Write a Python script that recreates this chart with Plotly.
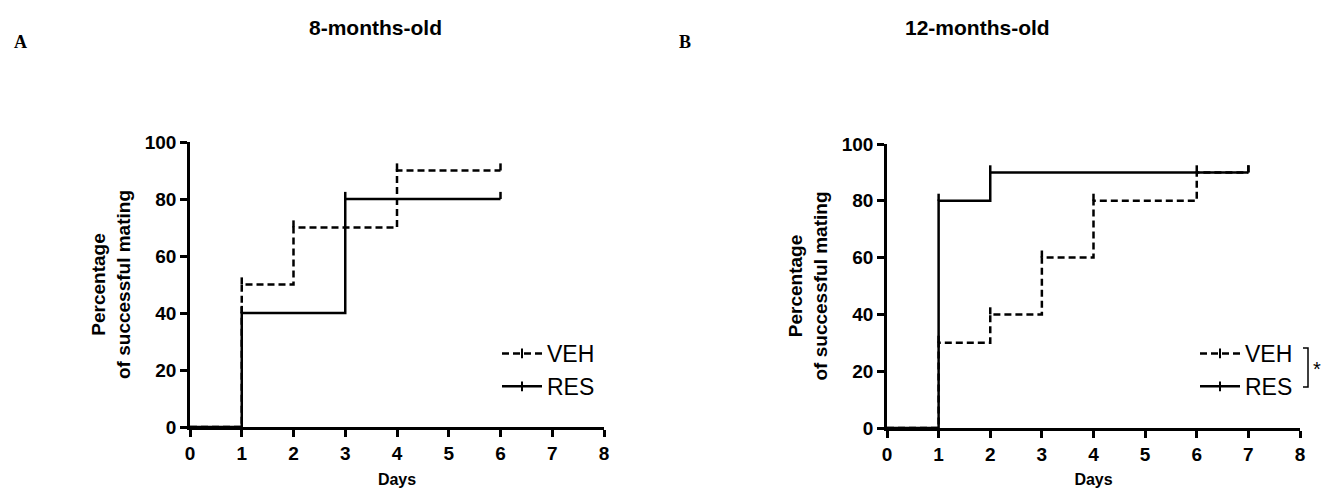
import plotly.graph_objects as go

# ---------------- data ----------------
SERIES = ["VEH", "RES"]
PANEL_LETTERS = ["A", "B"]
PANEL_TITLES = ["8-months-old", "12-months-old"]

A_VEH_DAYS = [0, 1, 2, 4, 6]
A_VEH_PCT = [0, 50, 70, 90, 90]
A_RES_DAYS = [0, 1, 3, 6]
A_RES_PCT = [0, 40, 80, 80]

B_VEH_DAYS = [0, 1, 2, 3, 4, 6, 7]
B_VEH_PCT = [0, 30, 40, 60, 80, 90, 90]
B_RES_DAYS = [0, 1, 2, 7]
B_RES_PCT = [0, 80, 90, 90]

X_TICKS = [0, 1, 2, 3, 4, 5, 6, 7, 8]
Y_TICKS = [0, 20, 40, 60, 80, 100]
X_LABEL = "Days"
Y_LABEL = "Percentage<br>of successful mating"
SIG_MARK = "*"

# ---------------- style ----------------
W, H = 1322, 488
SANS = "Liberation Sans, Arial, sans-serif"
SERIF = "Liberation Serif, Times New Roman, serif"
DASH = "7px,4px"
LW = 2.5
CENSOR = 2.5  # height of the censor tick, in % units


def px(x):
    return x / W


def py(y):
    return 1 - y / H


fig = go.Figure()

panels = [
    (A_VEH_DAYS, A_VEH_PCT, A_RES_DAYS, A_RES_PCT, "x", "y"),
    (B_VEH_DAYS, B_VEH_PCT, B_RES_DAYS, B_RES_PCT, "x2", "y2"),
]

for vx, vy, rx, ry, xa, ya in panels:
    for name, xs, ys, dash in [(SERIES[0], vx, vy, DASH), (SERIES[1], rx, ry, "solid")]:
        fig.add_trace(go.Scatter(
            x=xs, y=ys, mode="lines", name=name, showlegend=False,
            line=dict(color="black", width=LW, shape="hv", dash=dash),
            error_y=dict(type="data", symmetric=False,
                         array=[0] + [CENSOR] * (len(ys) - 1),
                         arrayminus=[0] * len(ys),
                         width=0, thickness=LW, color="black"),
            xaxis=xa, yaxis=ya, hoverinfo="skip",
        ))

# legend-only entries
for leg in ["legend", "legend2"]:
    for name, dash in [(SERIES[0], DASH), (SERIES[1], "solid")]:
        fig.add_trace(go.Scatter(
            x=[None], y=[None], mode="lines+markers", name=name, legend=leg,
            line=dict(color="black", width=LW, dash=dash),
            marker=dict(symbol="line-ns-open", size=7, color="black",
                        line=dict(color="black", width=2)),
            xaxis="x" if leg == "legend" else "x2",
            yaxis="y" if leg == "legend" else "y2",
        ))

axis_common = dict(
    showline=True, linewidth=LW, linecolor="black",
    ticks="outside", ticklen=7, tickwidth=LW, tickcolor="black",
    showgrid=False, zeroline=False, automargin=False,
    tickfont=dict(family=SANS, size=19, color="black", weight="bold"),
)

xdoms = [[px(190), px(604)], [px(887), px(1300)]]
ydoms = [[py(427), py(142)], [py(428), py(144)]]

layout = dict(
    width=W, height=H,
    margin=dict(l=0, r=0, t=0, b=0, pad=0, autoexpand=False),
    paper_bgcolor="white", plot_bgcolor="white",
    font=dict(family=SANS, color="black"),
)
for i, (xd, yd) in enumerate(zip(xdoms, ydoms)):
    sx = "" if i == 0 else str(i + 1)
    layout["xaxis" + sx] = dict(
        axis_common, domain=xd, range=[0, 8], tickvals=X_TICKS,
        anchor="y" + sx, ticklabelstandoff=0,
        title=dict(text=X_LABEL, standoff=12,
                   font=dict(family=SANS, size=16, color="black", weight="bold")),
    )
    layout["yaxis" + sx] = dict(
        axis_common, domain=yd, range=[0, 100], tickvals=Y_TICKS,
        anchor="x" + sx,
        title=dict(text=Y_LABEL, standoff=10,
                   font=dict(family=SANS, size=19, color="black", weight="bold")),
    )

legend_common = dict(
    xanchor="left", yanchor="top", bgcolor="rgba(0,0,0,0)",
    font=dict(family=SANS, size=23, color="black"),
    itemwidth=40, tracegroupgap=0, borderwidth=0,
)
layout["legend"] = dict(legend_common, x=px(497), y=py(332))
layout["legend2"] = dict(legend_common, x=px(1195), y=py(332))

fig.update_layout(**layout)

# panel titles and letters
title_pos = [(375, 28), (977, 28)]
letter_pos = [(20, 42), (685, 42)]
for t, (tx, ty) in zip(PANEL_TITLES, title_pos):
    fig.add_annotation(text=t, x=px(tx), y=py(ty), xref="paper", yref="paper",
                       showarrow=False, xanchor="center", yanchor="middle",
                       font=dict(family=SANS, size=21, color="black", weight="bold"))
for t, (tx, ty) in zip(PANEL_LETTERS, letter_pos):
    fig.add_annotation(text=t, x=px(tx), y=py(ty), xref="paper", yref="paper",
                       showarrow=False, xanchor="center", yanchor="middle",
                       font=dict(family=SERIF, size=18, color="black", weight="bold"))

# significance bracket
x1, x2, y1, y2 = px(1303), px(1308), py(348), py(387)
fig.add_shape(type="path", xref="paper", yref="paper",
              path=f"M {x1},{y1} L {x2},{y1} L {x2},{y2} L {x1},{y2}",
              line=dict(color="black", width=1.5))
fig.add_annotation(text=SIG_MARK, x=px(1317), y=py(369), xref="paper", yref="paper",
                   showarrow=False, xanchor="center", yanchor="middle",
                   font=dict(family=SANS, size=20, color="black"))

fig.write_html("out.html", config={"displayModeBar": False},
               post_script="document.body.style.margin='0';document.body.style.overflow='hidden';")
